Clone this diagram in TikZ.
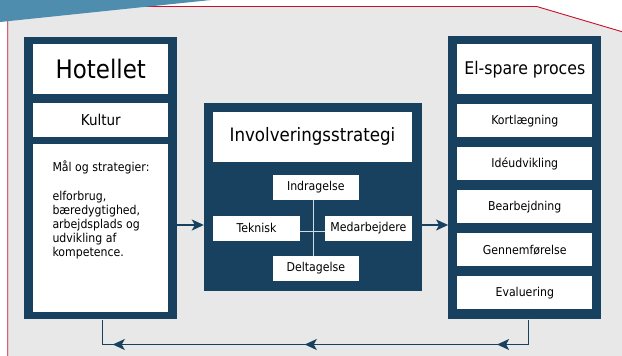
\documentclass[tikz,border=0pt]{standalone}
\usepackage{fontspec}
\setmainfont{DejaVu Sans Condensed}
\usetikzlibrary{arrows.meta,decorations.markings}
\definecolor{navy}{HTML}{17415E}
\definecolor{bgrey}{HTML}{E8E8E8}
\definecolor{redline}{HTML}{C8102E}
\definecolor{topblue}{HTML}{4F8DAE}
\definecolor{crossline}{HTML}{D5DCE2}
\tikzset{
  outerbox/.style={fill=navy, draw=none, inner sep=0pt},
  wbox/.style={fill=white, draw=none, inner sep=0pt, align=center, text=black},
  bigtitle/.style={font=\fontsize{25.5}{25.5}\selectfont},
  midtitle/.style={font=\fontsize{18.5}{18.5}\selectfont},
  rtitle/.style={font=\fontsize{17.5}{17.5}\selectfont},
  kultur/.style={font=\fontsize{15}{15}\selectfont},
  small/.style={font=\fontsize{12.2}{12.2}\selectfont},
  conn/.style={draw=navy, line width=1.3pt},
  tip/.style={-{Stealth[length=12pt,width=11pt,inset=3pt]}},
  arr/.style={conn, tip},
  cross/.style={draw=crossline, line width=1.1pt},
}
\begin{document}
\begin{tikzpicture}[x=1pt,y=-1pt]
\useasboundingbox (0,0) rectangle (622,356);
% background
\fill[white] (0,0) rectangle (622,356);
\fill[bgrey] (7.7,356) -- (7.7,6.5) -- (536.7,6.5) -- (622,31.7) -- (622,356) -- cycle;
\draw[redline, line width=0.9pt] (7.7,356) -- (7.7,6.5) -- (536.7,6.5) -- (622,31.7);
\fill[topblue] (0,0) -- (211,0) -- (0,22) -- cycle;

% left column
\node[outerbox, minimum width=152.4, minimum height=282.6] (lo) at (100.5,178) {};
\node[wbox, bigtitle, minimum width=135, minimum height=50] (hot) at (100.8,69.3) {Hotellet};
\node[wbox, kultur, minimum width=135, minimum height=34] (kul) at (100.8,119.7) {Kultur};
\node[wbox, minimum width=135, minimum height=168] (mal) at (100.8,228.3) {};
\node[anchor=north west, inner sep=0pt, align=left, font=\fontsize{12.2}{14}\selectfont] (maltxt) at (52.3,160.3)
  {Mål og strategier:\\[15.5pt]elforbrug,\\bæredygtighed,\\arbejdsplads og\\udvikling af\\kompetence.};

% middle column
\node[outerbox, minimum width=217.7, minimum height=187.4] (mo) at (312.85,197) {};
\node[wbox, midtitle, minimum width=198.4, minimum height=50] (inv) at (312.5,136.7) {Involveringsstrategi};
\node[wbox, small, minimum width=86.3, minimum height=25] (ind) at (315.85,187.5) {Indragelse};
\node[wbox, small, minimum width=86.7, minimum height=25] (tek) at (256.65,228.2) {Teknisk};
\node[wbox, small, minimum width=86.7, minimum height=25] (med) at (368.35,228.2) {Medarbejdere};
\node[wbox, small, minimum width=86.3, minimum height=25.3] (del) at (315.85,268.35) {Deltagelse};
\coordinate (cx) at (313.3,231.7);
\draw[cross] (ind.south -| cx) -- (del.north -| cx);
\draw[cross] (tek.east |- cx) -- (med.west |- cx);

% right column
\node[outerbox, minimum width=152.7, minimum height=283.3] (ro) at (524.65,177.65) {};
\node[wbox, rtitle, minimum width=135, minimum height=50] (els) at (524.8,69.3) {El-spare proces};
\node[wbox, small, minimum width=135, minimum height=33.3] (r1) at (524.8,120.65) {Kortlægning};
\node[wbox, small, minimum width=135, minimum height=33.3] (r2) at (524.8,163.65) {Idéudvikling};
\node[wbox, small, minimum width=135, minimum height=33.3] (r3) at (524.8,206.65) {Bearbejdning};
\node[wbox, small, minimum width=135, minimum height=33.3] (r4) at (524.8,249.65) {Gennemførelse};
\node[wbox, small, minimum width=135, minimum height=33.3] (r5) at (524.8,292.65) {Evaluering};

% connectors
\coordinate (ya) at (0,225);
\draw[arr] (lo.east |- ya) -- (mo.west |- ya);
\draw[arr] (mo.east |- ya) -- (ro.west |- ya);

\coordinate (fr) at (528.3,344.5);
\coordinate (fl) at (102.7,344.5);
\draw[conn, postaction={decorate}, decoration={markings,
   mark=at position 56.2pt with {\arrow{Stealth[length=12pt,width=11pt,inset=3pt]}},
   mark=at position 248.5pt with {\arrow{Stealth[length=12pt,width=11pt,inset=3pt]}},
   mark=at position 440.5pt with {\arrow{Stealth[length=12pt,width=11pt,inset=3pt]}}}]
  (ro.south -| fr) -- (fr) -- (fl) -- (lo.south -| fl);
\end{tikzpicture}
\end{document}
